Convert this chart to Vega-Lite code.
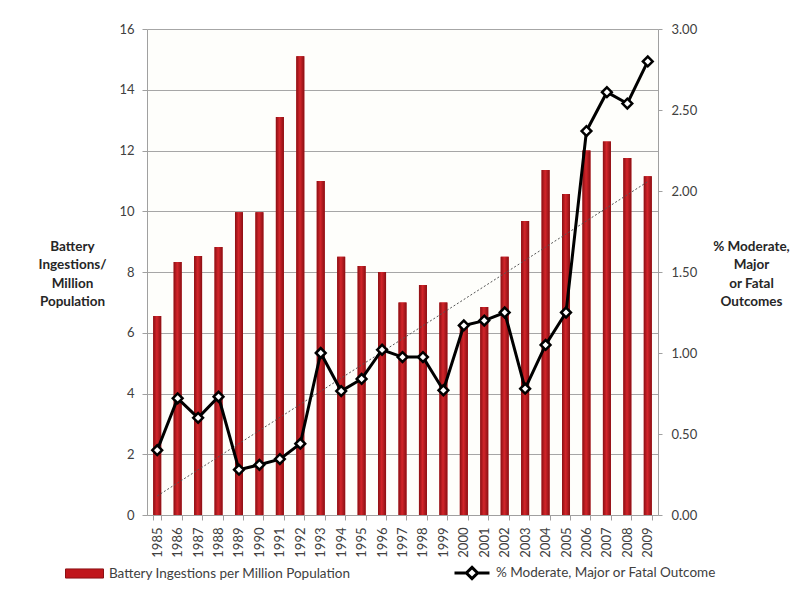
{
  "$schema": "https://vega.github.io/schema/vega-lite/v6.json",
  "width": 511,
  "height": 486,
  "autosize": {"type": "none"},
  "padding": {"left": 147, "top": 29, "right": 147, "bottom": 79},
  "background": "white",
  "config": {
    "font": "Lato",
    "view": {"stroke": null, "fill": "#fefefb"},
    "axis": {
      "labelFont": "Lato",
      "titleFont": "Lato",
      "labelFontSize": 13,
      "labelColor": "#404040",
      "domainColor": "#a0a0a0",
      "tickColor": "#a0a0a0",
      "gridColor": "#a6a6a6"
    },
    "legend": {"labelFont": "Lato"}
  },
  "data": {
    "values": [
      {"year": 1985, "ingestions": 6.55, "pct": 0.40},
      {"year": 1986, "ingestions": 8.33, "pct": 0.72},
      {"year": 1987, "ingestions": 8.53, "pct": 0.60},
      {"year": 1988, "ingestions": 8.82, "pct": 0.73},
      {"year": 1989, "ingestions": 9.97, "pct": 0.28},
      {"year": 1990, "ingestions": 9.97, "pct": 0.31},
      {"year": 1991, "ingestions": 13.1, "pct": 0.345},
      {"year": 1992, "ingestions": 15.1, "pct": 0.44},
      {"year": 1993, "ingestions": 11.0, "pct": 1.00},
      {"year": 1994, "ingestions": 8.5, "pct": 0.765},
      {"year": 1995, "ingestions": 8.2, "pct": 0.84},
      {"year": 1996, "ingestions": 8.0, "pct": 1.02},
      {"year": 1997, "ingestions": 7.0, "pct": 0.975},
      {"year": 1998, "ingestions": 7.57, "pct": 0.975},
      {"year": 1999, "ingestions": 7.0, "pct": 0.77},
      {"year": 2000, "ingestions": 6.2, "pct": 1.17},
      {"year": 2001, "ingestions": 6.85, "pct": 1.20},
      {"year": 2002, "ingestions": 8.5, "pct": 1.25},
      {"year": 2003, "ingestions": 9.68, "pct": 0.78},
      {"year": 2004, "ingestions": 11.36, "pct": 1.05},
      {"year": 2005, "ingestions": 10.57, "pct": 1.25},
      {"year": 2006, "ingestions": 12.0, "pct": 2.37},
      {"year": 2007, "ingestions": 12.3, "pct": 2.61},
      {"year": 2008, "ingestions": 11.75, "pct": 2.54},
      {"year": 2009, "ingestions": 11.15, "pct": 2.80}
    ]
  },
  "encoding": {
    "x": {
      "field": "year",
      "type": "ordinal",
      "scale": {"paddingInner": 0.61, "paddingOuter": 0.305},
      "axis": {
        "title": null,
        "labelAngle": -90,
        "tickBand": "extent",
        "tickSize": 5,
        "labelPadding": 7,
        "grid": false
      }
    }
  },
  "layer": [
    {
      "layer": [
        {
          "mark": {"type": "bar", "stroke": "#8b1014", "strokeWidth": 0},
          "encoding": {
            "y": {
              "field": "ingestions",
              "type": "quantitative",
              "scale": {"domain": [0, 16], "nice": false},
              "axis": {
                "values": [0, 2, 4, 6, 8, 10, 12, 14, 16],
                "grid": true,
                "tickSize": 5,
                "labelPadding": 8,
                "title": ["Battery", "Ingestions/", "Million", "Population"],
                "titleAngle": 0,
                "titleAlign": "center",
                "titleBaseline": "top",
                "titleFontSize": 13.5,
                "titleFontWeight": "bold",
                "titleColor": "#262626",
                "titleLineHeight": 18.5,
                "titleX": -75,
                "titleY": 210
              }
            },
            "color": {
              "datum": "Battery Ingestions per Million Population",
              "scale": {"range": ["#c0161c"]},
              "legend": {
                "title": null,
                "orient": "none",
                "legendX": -82,
                "legendY": 525,
                "padding": 0,
                "symbolType": "M-1,-0.24H1V0.24H-1Z",
                "symbolSize": 1444,
                "symbolStrokeColor": "#8b1014",
                "symbolStrokeWidth": 1,
                "labelFontSize": 13.5,
                "labelColor": "#404040",
                "labelOffset": 5,
                "labelLimit": 400
              }
            }
          }
        },
        {
          "mark": {
            "type": "bar",
            "color": {
              "gradient": "linear",
              "x1": 0, "x2": 1, "y1": 0, "y2": 0,
              "stops": [
                {"offset": 0, "color": "#8a0f13"},
                {"offset": 0.45, "color": "#d3252a"},
                {"offset": 1, "color": "#8a0f13"}
              ]
            }
          },
          "encoding": {
            "y": {"field": "ingestions", "type": "quantitative"}
          }
        }
      ]
    },
    {
      "layer": [
        {
          "transform": [{"regression": "pct", "on": "year"}],
          "mark": {"type": "line", "color": "#555555", "strokeWidth": 1, "strokeDash": [2, 2]},
          "encoding": {
            "x": {"field": "year", "type": "ordinal"},
            "y": {"field": "pct", "type": "quantitative"}
          }
        },
        {
          "mark": {
            "type": "line",
            "strokeWidth": 3,
            "point": {"shape": "diamond", "filled": true, "fill": "white", "stroke": "black", "strokeWidth": 2.5, "size": 95}
          },
          "encoding": {
            "y": {
              "field": "pct",
              "type": "quantitative",
              "scale": {"domain": [0, 3], "nice": false},
              "axis": {
                "orient": "right",
                "values": [0, 0.5, 1, 1.5, 2, 2.5, 3],
                "format": ".2f",
                "grid": false,
                "tickSize": 4,
                "labelPadding": 9,
                "title": ["% Moderate,", "Major", "or Fatal", "Outcomes"],
                "titleAngle": 0,
                "titleAlign": "center",
                "titleBaseline": "top",
                "titleFontSize": 13.5,
                "titleFontWeight": "bold",
                "titleColor": "#262626",
                "titleLineHeight": 18.5,
                "titleX": 93,
                "titleY": 210
              }
            },
            "stroke": {
              "datum": "% Moderate, Major or Fatal Outcome",
              "scale": {"range": ["black"]},
              "legend": {
                "title": null,
                "orient": "none",
                "legendX": 306,
                "legendY": 525,
                "padding": 0,
                "symbolType": "M-1,0H-0.3M0.3,0H1M0,-0.32L0.32,0L0,0.32L-0.32,0Z",
                "symbolSize": 1225,
                "symbolFillColor": "white",
                "symbolStrokeColor": "black",
                "symbolStrokeWidth": 3,
                "labelFontSize": 13.5,
                "labelColor": "#404040",
                "labelOffset": 5,
                "labelLimit": 400
              }
            }
          }
        }
      ]
    }
  ],
  "resolve": {"scale": {"y": "independent"}}
}
